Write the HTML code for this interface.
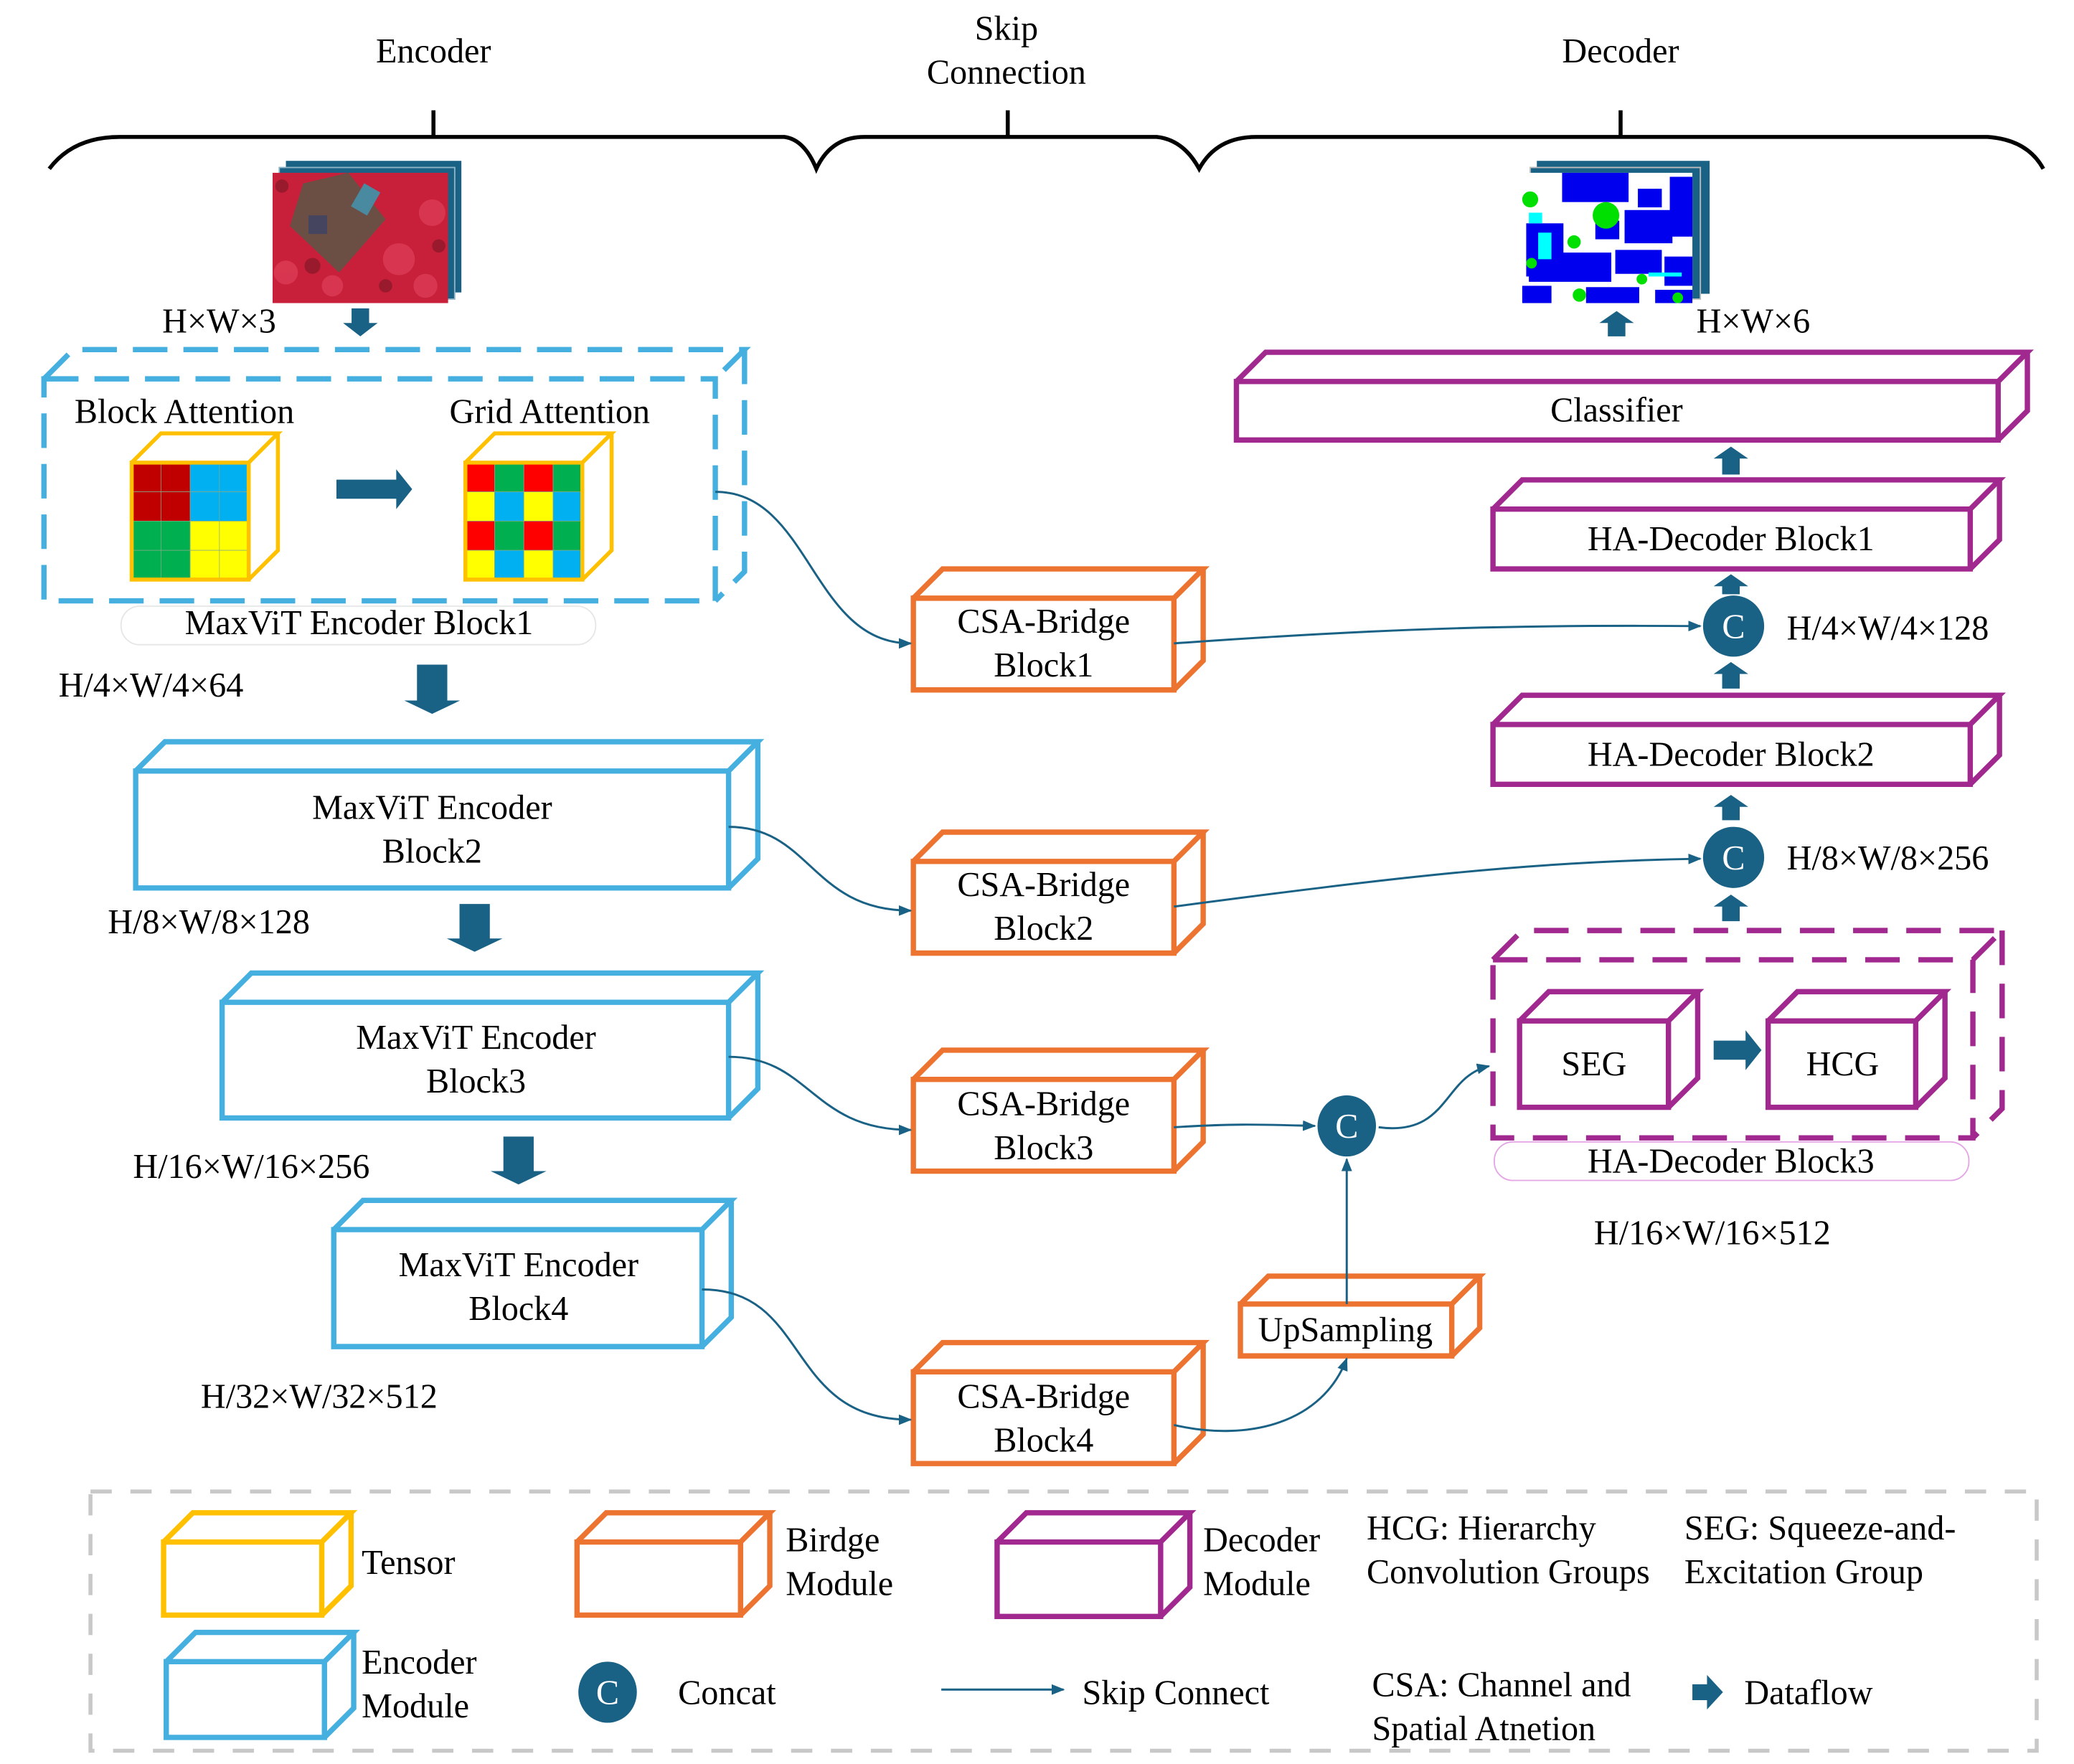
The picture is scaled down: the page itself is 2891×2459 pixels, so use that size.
<!DOCTYPE html>
<html><head><meta charset="utf-8"><style>
html,body{margin:0;padding:0;background:#fff}
svg{display:block}
svg text{font-family:"Liberation Serif","DejaVu Serif","Times New Roman",serif !important;font-size:26px;fill:#000}
</style></head><body>
<svg id="s" width="2891" height="2459" viewBox="0 0 1560 1327" xmlns="http://www.w3.org/2000/svg" font-family="Liberation Serif, DejaVu Serif, serif">
<defs>
<marker id="ah" markerWidth="10" markerHeight="10" refX="9" refY="5" orient="auto" markerUnits="userSpaceOnUse">
<path d="M0,1 L10,5 L0,9 Z" fill="#1a6285"/></marker>
</defs>
<g id="shapes"></g>
<g fill="none" stroke="#000" stroke-width="3">
<path d="M37,127 Q55,103 90,103 L590,103 Q605,105 614,127 Q625,103 650,103 L870,103 Q890,105 902,127 Q915,103 945,103 L1495,103 Q1525,105 1537,127"/>
<path d="M326,83 V103 M758,83 V103 M1219,83 V103"/>
</g>
<text x="326" y="47" text-anchor="middle">Encoder</text>
<text x="757" y="30" text-anchor="middle">Skip</text>
<text x="757" y="63" text-anchor="middle">Connection</text>
<text x="1219" y="47" text-anchor="middle">Decoder</text>

<rect x="215" y="121" width="132" height="99" fill="#1a6285"/>
<rect x="210" y="126" width="132" height="99" fill="#1a6285" stroke="#8fb4c6" stroke-width="1"/>
<rect x="205" y="130" width="132" height="98" fill="#c8203a"/>
<g fill="#e0405a" opacity="0.7"><circle cx="215" cy="205" r="9"/><circle cx="300" cy="195" r="12"/><circle cx="325" cy="160" r="10"/><circle cx="250" cy="215" r="8"/><circle cx="320" cy="215" r="9"/></g>
<g fill="#7a1525" opacity="0.6"><circle cx="235" cy="200" r="6"/><circle cx="290" cy="215" r="5"/><circle cx="330" cy="185" r="5"/><circle cx="212" cy="140" r="5"/></g>
<path d="M228,138 L262,130 L290,165 L255,205 L218,170 Z" fill="#6b4f44"/>
<rect x="268" y="140" width="14" height="20" fill="#4a8aa0" transform="rotate(30 275 150)"/>
<rect x="232" y="162" width="14" height="14" fill="#454560"/>
<text x="122" y="250" font-size="24">H×W×3</text>

<rect x="1156" y="121" width="130" height="100" fill="#1a6285"/>
<rect x="1151" y="126" width="128" height="99" fill="#1a6285" stroke="#bbb" stroke-width="1"/>
<rect x="1145" y="130" width="128" height="98" fill="#fff"/>
<g fill="#0000ee">
<rect x="1175" y="130" width="50" height="22"/><rect x="1222" y="158" width="36" height="25"/><rect x="1256" y="133" width="17" height="45"/>
<rect x="1148" y="168" width="28" height="40"/><rect x="1150" y="190" width="62" height="22"/><rect x="1215" y="188" width="35" height="18"/>
<rect x="1193" y="216" width="40" height="12"/><rect x="1145" y="215" width="22" height="13"/><rect x="1252" y="193" width="21" height="22"/>
<rect x="1232" y="142" width="18" height="14"/><rect x="1200" y="166" width="18" height="14"/><rect x="1245" y="218" width="28" height="10"/></g>
<g fill="#00e000"><circle cx="1208" cy="162" r="10"/><circle cx="1151" cy="150" r="6"/><circle cx="1184" cy="182" r="5"/><circle cx="1188" cy="222" r="5"/><circle cx="1262" cy="224" r="4"/><circle cx="1152" cy="198" r="4"/><circle cx="1235" cy="210" r="4"/></g>
<g fill="#00ffff"><rect x="1157" y="175" width="10" height="20"/><rect x="1240" y="205" width="25" height="3"/><rect x="1150" y="160" width="10" height="8"/></g>
<text x="1276" y="250" font-size="24">H×W×6</text>

<g id="grids"></g>
<text x="56" y="318">Block Attention</text>
<text x="338" y="318">Grid Attention</text>
<rect x="91" y="456" width="357" height="29" rx="14" fill="none" stroke="#e6e6e6" stroke-width="1"/>
<text x="270" y="477" text-anchor="middle">MaxViT Encoder Block1</text>
<text x="44" y="524">H/4×W/4×64</text>

<text x="325" y="616" text-anchor="middle">MaxViT Encoder</text>
<text x="325" y="649" text-anchor="middle">Block2</text>
<text x="81" y="702">H/8×W/8×128</text>
<text x="358" y="789" text-anchor="middle">MaxViT Encoder</text>
<text x="358" y="822" text-anchor="middle">Block3</text>
<text x="100" y="886">H/16×W/16×256</text>
<text x="390" y="960" text-anchor="middle">MaxViT Encoder</text>
<text x="390" y="993" text-anchor="middle">Block4</text>
<text x="151" y="1059">H/32×W/32×512</text>

<text x="785" y="476" text-anchor="middle">CSA-Bridge</text><text x="785" y="509" text-anchor="middle">Block1</text>
<text x="785" y="674" text-anchor="middle">CSA-Bridge</text><text x="785" y="707" text-anchor="middle">Block2</text>
<text x="785" y="839" text-anchor="middle">CSA-Bridge</text><text x="785" y="872" text-anchor="middle">Block3</text>
<text x="785" y="1059" text-anchor="middle">CSA-Bridge</text><text x="785" y="1092" text-anchor="middle">Block4</text>
<text x="1012" y="1009" text-anchor="middle">UpSampling</text>

<text x="1216" y="317" text-anchor="middle">Classifier</text>
<text x="1302" y="414" text-anchor="middle">HA-Decoder Block1</text>
<text x="1302" y="576" text-anchor="middle">HA-Decoder Block2</text>
<text x="1199" y="809" text-anchor="middle">SEG</text>
<text x="1386" y="809" text-anchor="middle">HCG</text>
<rect x="1124" y="859" width="357" height="29" rx="14" fill="none" stroke="#e4a6e4" stroke-width="1"/>
<text x="1302" y="882" text-anchor="middle">HA-Decoder Block3</text>
<text x="1199" y="936">H/16×W/16×512</text>
<text x="1344" y="481">H/4×W/4×128</text>
<text x="1344" y="654">H/8×W/8×256</text>

<g fill="none" stroke="#1a6285" stroke-width="1.6" marker-end="url(#ah)">
<path d="M538,370 C610,370 610,484 685,484"/>
<path d="M548,622 C610,622 610,685 685,685"/>
<path d="M548,795 C610,795 610,850 685,850"/>
<path d="M528,970 C610,970 590,1068 685,1068"/>
<path d="M883,484 C1050,472 1150,470 1279,471"/>
<path d="M883,682 C1050,660 1150,648 1279,646"/>
<path d="M883,848 C930,845 950,846 989,847"/>
<path d="M1037,848 C1090,855 1085,810 1120,802"/>
<path d="M1013,981 V872"/>
<path d="M883,1072 C940,1085 995,1070 1013,1022"/>
<path d="M708,1271 H800"/>
</g>
<g fill="#1a6285"><ellipse cx="1304" cy="471" rx="23" ry="23"/><ellipse cx="1304" cy="645" rx="23" ry="23"/><ellipse cx="1013" cy="847" rx="22" ry="23"/><ellipse cx="457" cy="1273" rx="22" ry="23"/></g>
<g text-anchor="middle"><text x="1304" y="480" style="fill:#fff">C</text><text x="1304" y="654" style="fill:#fff">C</text><text x="1013" y="856" style="fill:#fff">C</text><text x="457" y="1282" style="fill:#fff">C</text></g>

<rect x="68" y="1122" width="1464" height="195" fill="none" stroke="#c8c8c8" stroke-width="3" stroke-dasharray="16,14"/>
<text x="272" y="1184">Tensor</text>
<text x="591" y="1167">Birdge</text><text x="591" y="1200">Module</text>
<text x="905" y="1167">Decoder</text><text x="905" y="1200">Module</text>
<text x="1028" y="1158">HCG: Hierarchy</text><text x="1028" y="1191">Convolution Groups</text>
<text x="1267" y="1158">SEG: Squeeze-and-</text><text x="1267" y="1191">Excitation Group</text>
<text x="272" y="1259">Encoder</text><text x="272" y="1292">Module</text>
<text x="510" y="1282">Concat</text>
<text x="814" y="1282">Skip Connect</text>
<text x="1032" y="1276">CSA: Channel and</text><text x="1032" y="1309">Spatial Atnetion</text>
<text x="1312" y="1282">Dataflow</text>
</svg>
<script>
var NS="http://www.w3.org/2000/svg",G=document.getElementById('shapes');
function el(t,a,p){var e=document.createElementNS(NS,t);for(var k in a)e.setAttribute(k,a[k]);(p||G).appendChild(e);return e;}
function box(x,y,w,h,d,c,dash,sw){sw=sw||4;
 var st={fill:"none",stroke:c,"stroke-width":sw,"stroke-linejoin":"miter"};if(dash)st["stroke-dasharray"]=dash;
 var p="M"+x+","+y+" H"+(x+w)+" V"+(y+h)+" H"+x+" Z M"+x+","+y+" L"+(x+d)+","+(y-d)+" H"+(x+w+d)+" L"+(x+w)+","+y+" M"+(x+w+d)+","+(y-d)+" V"+(y+h-d)+" L"+(x+w)+","+(y+h);
 st.d=p;el("path",st);}
var B="#45b0e0",O="#ec7430",P="#a0288e",Y="#ffc000";
box(33,285,505,167,22,B,"26,12");
box(102,580,446,88,22,B);box(167,754,381,87,22,B);box(251,925,277,88,22,B);
[450,648,812,1032].forEach(function(y){box(687,y,196,69,22,O);});
box(933,981,159,39,21,O);
box(930,287,573,44,22,P);box(1123,383,359,45,22,P);box(1123,545,359,45,22,P);
box(1123,722,361,134,22,P,"26,14");
box(1143,768,112,65,22,P);box(1330,768,111,65,22,P);
box(123,1160,119,55,22,Y);box(434,1160,123,55,22,O);box(750,1160,123,56,22,P);box(125,1250,119,57,22,B);
var gg=document.getElementById('grids');
var A=[["#c00000","#c00000","#00b0f0","#00b0f0"],["#c00000","#c00000","#00b0f0","#00b0f0"],["#00b050","#00b050","#ffff00","#ffff00"],["#00b050","#00b050","#ffff00","#ffff00"]];
var Gd=[["#ff0000","#00b050","#ff0000","#00b050"],["#ffff00","#00b0f0","#ffff00","#00b0f0"],["#ff0000","#00b050","#ff0000","#00b050"],["#ffff00","#00b0f0","#ffff00","#00b0f0"]];
function grid(x,y,M){var s=22;for(var r=0;r<4;r++)for(var c=0;c<4;c++)el("rect",{x:x+c*s,y:y+r*s,width:s,height:s,fill:M[r][c],stroke:"#8a8","stroke-width":0.4},gg);
 var sav=G;G=gg;box(x,y,88,88,22,Y,null,3);G=sav;}
grid(99,348,A);grid(350,348,Gd);
function down(cx,y1,y2,w){w=w||22;var h=10;el("path",{d:"M"+(cx-w/2*0.6)+","+y1+" H"+(cx+w/2*0.6)+" V"+(y2-h)+" H"+(cx+w/2+2)+" L"+cx+","+y2+" L"+(cx-w/2-2)+","+(y2-h)+" H"+(cx-w/2*0.6)+" Z",fill:"#1a6285"});}
function up(cx,y1,y2,w){w=w||22;var h=9;el("path",{d:"M"+(cx-w*0.3)+","+y1+" H"+(cx+w*0.3)+" V"+(y2+h)+" H"+(cx+w/2+2)+" L"+cx+","+y2+" L"+(cx-w/2-2)+","+(y2+h)+" H"+(cx-w*0.3)+" Z",fill:"#1a6285"});}
function right(x1,x2,cy,hh){var h=hh||10;el("path",{d:"M"+x1+","+(cy-h*0.6)+" H"+(x2-12)+" V"+(cy-h-3)+" L"+x2+","+cy+" L"+(x2-12)+","+(cy+h+3)+" V"+(cy+h*0.6)+" H"+x1+" Z",fill:"#1a6285"});}
down(271,232,253,22);down(325,500,537,38);down(357,680,716,38);down(390,855,891,38);
up(1216,253,234,22);up(1302,357,336,22);up(1302,447,432,22);up(1302,518,498,22);up(1302,617,598,22);up(1302,693,673,22);
right(253,310,368,12);right(1289,1325,790,12);right(1273,1296,1273,10);
</script>
</body></html>
